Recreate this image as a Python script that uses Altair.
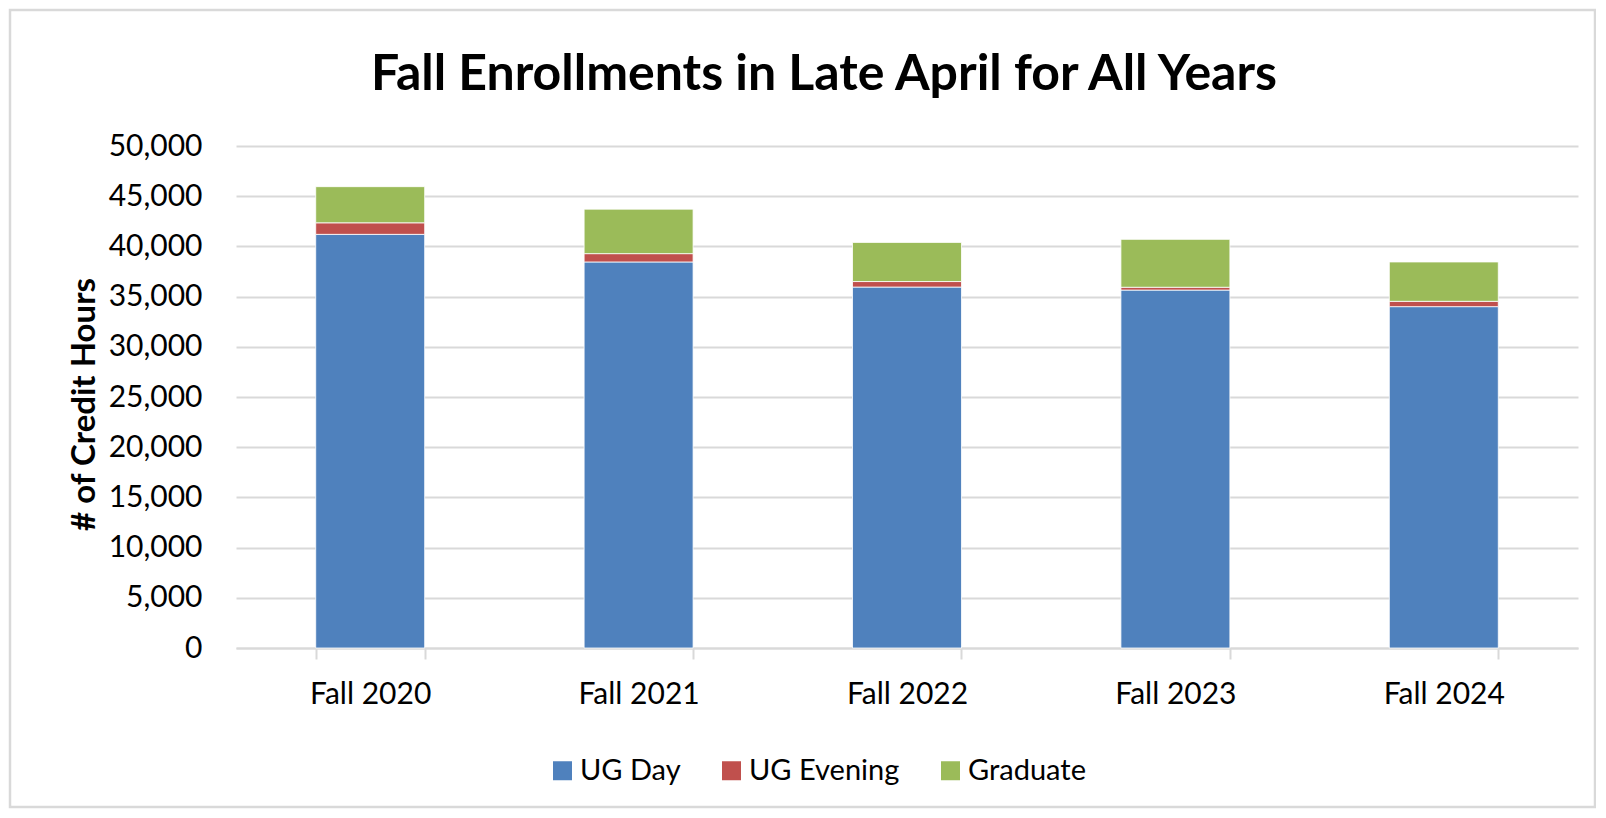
import altair as alt
import pandas as pd

years = ["Fall 2020", "Fall 2021", "Fall 2022", "Fall 2023", "Fall 2024"]
categories = ["UG Day", "UG Evening", "Graduate"]
ug_day = [41200, 38450, 35950, 35650, 34000]
ug_evening = [1150, 830, 550, 280, 530]
graduate = [3600, 4430, 3900, 4770, 3920]
colors = ["#4F81BD", "#C0504D", "#9BBB59"]
y_ticks = list(range(0, 50001, 5000))
title_text = "Fall Enrollments in Late April for All Years"

rows = []
for i, yr in enumerate(years):
    for k, (cat, series) in enumerate(zip(categories, [ug_day, ug_evening, graduate])):
        rows.append({"year": yr, "category": cat, "value": series[i], "order": k})
df = pd.DataFrame(rows)

FONT = "Lato"

bars = alt.Chart(df).mark_bar(stroke="white", strokeWidth=0.8).encode(
    x=alt.X(
        "year:N",
        sort=years,
        scale=alt.Scale(paddingInner=0.594, paddingOuter=0.297),
        axis=alt.Axis(
            title=None,
            labelAngle=0,
            labelFont=FONT,
            labelFontSize=30,
            labelColor="#000000",
            labelPadding=20,
            domainColor="#d9d9d9",
            domainWidth=2,
            tickColor="#d9d9d9",
            tickWidth=2,
            tickSize=11,
            tickBand="extent",
        ),
    ),
    y=alt.Y(
        "value:Q",
        stack="zero",
        scale=alt.Scale(domain=[0, 50000], nice=False),
        axis=alt.Axis(
            title="# of Credit Hours",
            titleFont=FONT,
            titleFontSize=33,
            titleFontWeight="bold",
            titleColor="#000000",
            titlePadding=7,
            titleY=258,
            values=y_ticks,
            format=",d",
            labelFont=FONT,
            labelFontSize=30,
            labelColor="#000000",
            labelPadding=34,
            domain=False,
            ticks=False,
            gridColor="#d9d9d9",
            gridWidth=2,
        ),
    ),
    color=alt.Color(
        "category:N",
        scale=alt.Scale(domain=categories, range=colors),
        legend=alt.Legend(
            title=None,
            orient="none",
            legendX=312,
            legendY=610,
            direction="horizontal",
            symbolType="square",
            symbolSize=361,
            symbolStrokeWidth=0,
            symbolOffset=0,
            labelFont=FONT,
            labelFontSize=29,
            labelColor="#000000",
            labelOffset=3,
            columnPadding=36,
        ),
    ),
    order=alt.Order("order:Q"),
)

title = alt.Chart(alt.Data(values=[{"t": title_text}])).mark_text(
    font=FONT, fontSize=50, fontWeight="bold", color="#000000",
    align="center", baseline="alphabetic"
).encode(
    text="t:N", x=alt.value(588), y=alt.value(-56)
)

border = alt.Chart(alt.Data(values=[{"a": 1}])).mark_rect(
    fill=None, stroke="#d9d9d9", strokeWidth=2.5
).encode(
    x=alt.value(-226), x2=alt.value(1359), y=alt.value(-136), y2=alt.value(661)
)

chart = alt.layer(bars, title, border).properties(
    width=1342,
    height=502,
    autosize=alt.AutoSizeParams(type="none"),
    padding={"left": 228, "top": 138, "right": 18, "bottom": 162},
).configure_view(stroke=None)

chart.save("out.html", embed_options={"renderer": "svg", "actions": False})
